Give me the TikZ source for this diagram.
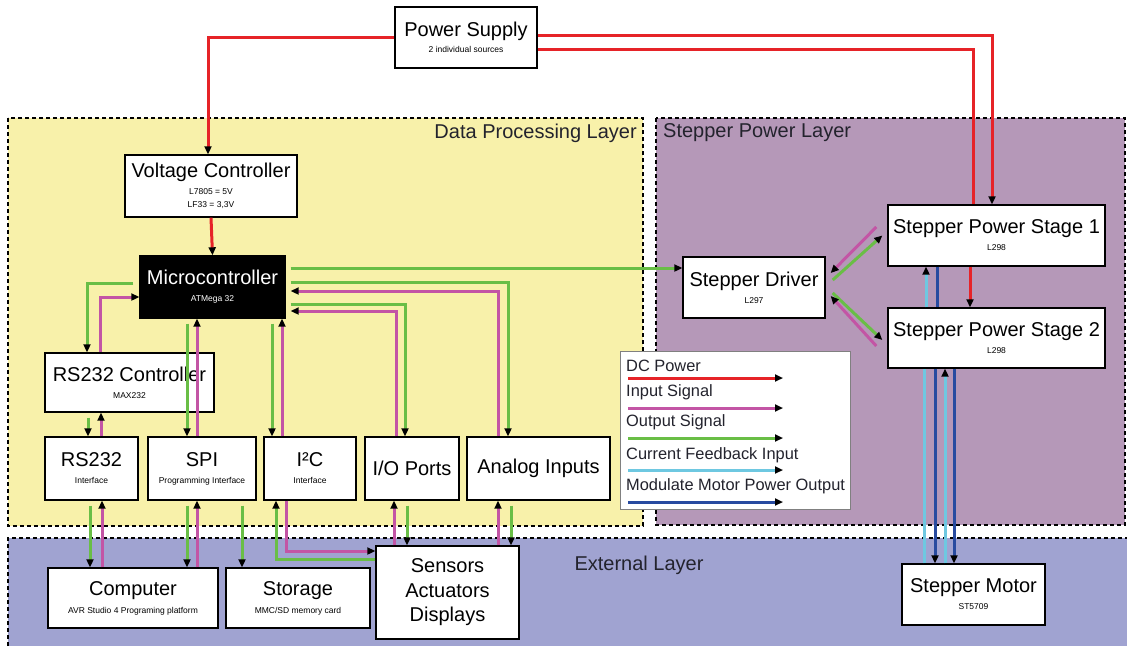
\documentclass[tikz,border=0pt]{standalone}
\usepackage{fontspec}
\setmainfont{Liberation Sans}
\usetikzlibrary{arrows.meta}
\definecolor{cred}{RGB}{230,35,40}
\definecolor{cmag}{RGB}{195,85,165}
\definecolor{cgrn}{RGB}{105,190,70}
\definecolor{ccyan}{RGB}{110,200,225}
\definecolor{cblue}{RGB}{40,75,160}
\definecolor{lyel}{RGB}{248,241,170}
\definecolor{lpur}{RGB}{181,152,184}
\definecolor{lblu}{RGB}{160,163,209}
\definecolor{ltxt}{RGB}{35,35,45}
\newcommand\mainf{\fontsize{20}{22}\selectfont}
\newcommand\subf{\fontsize{8.5}{11}\selectfont}
\begin{document}
\begin{tikzpicture}[x=1pt,y=-1pt,
  box/.style={draw=black, line width=1.4pt, fill=white, inner sep=0pt, align=center, text=black, font=\mainf},
  layer/.style={draw=black, line width=1.6pt, dash pattern=on 4pt off 3pt},
  lay/.style={text=ltxt, font=\fontsize{20}{22}\selectfont, inner sep=0pt},
  sig/.style={line width=3pt},
  tipa/.style={-{Triangle[length=8pt,width=7pt,black]}},
  pw/.style={sig, cred},
  pwa/.style={pw, tipa},
  ina/.style={sig, cmag, tipa},
  outa/.style={sig, cgrn, tipa},
  fb/.style={sig, ccyan},
  fba/.style={fb, tipa},
  md/.style={sig, cblue},
  mda/.style={md, tipa},
  legt/.style={anchor=west, inner sep=0pt, font=\fontsize{16.4}{18}\selectfont, text=ltxt}
]
\useasboundingbox (0,0) rectangle (1127,646);
\fill[white] (0,0) rectangle (1127,646);

% layers
\fill[lyel] (8,118) rectangle (643,526);
\draw[layer] (8,118) rectangle (643,526);
\fill[lpur] (656,118) rectangle (1125,525);
\draw[layer] (656,118) rectangle (1125,525);
\fill[lblu] (8,538) rectangle (1127,646);
\draw[layer] (8,646) -- (8,538) -- (1127,538);
\node[lay, anchor=east] (l1) at (637,133) {Data Processing Layer};
\node[lay, anchor=west] (l2) at (663,133) {Stepper Power Layer};
\node[lay] (l3) at (639,565) {External Layer};

% nodes
\node[box, minimum width=142pt, minimum height=61pt] (ps) at (466,37.5)
  {Power Supply\\[-6pt]\subf 2 individual sources};
\node[box, minimum width=172pt, minimum height=62pt] (vc) at (211,186)
  {Voltage Controller\\[-5pt]\subf L7805 = 5V\\[-9pt]\subf LF33 = 3,3V};
\node[box, fill=black, text=white, minimum width=145pt, minimum height=62pt] (mc) at (212.5,287)
  {Microcontroller\\[-5pt]\subf ATMega 32};
\node[box, minimum width=169pt, minimum height=59pt] (rsc) at (129.5,382.5)
  {RS232 Controller\\[-5pt]\subf MAX232};
\node[box, minimum width=93pt, minimum height=63pt] (rs) at (91.5,468.5)
  {RS232\\[-5pt]\subf Interface};
\node[box, minimum width=108pt, minimum height=63pt] (spi) at (202,468.5)
  {SPI\\[-5pt]\subf Programming Interface};
\node[box, minimum width=92pt, minimum height=63pt] (i2c) at (310,468.5)
  {I²C\\[-5pt]\subf Interface};
\node[box, minimum width=94pt, minimum height=63pt] (io) at (412,468.5)
  {I/O Ports};
\node[box, minimum width=143pt, minimum height=63pt] (an) at (538.5,468.5)
  {Analog Inputs};
\node[box, minimum width=142pt, minimum height=61pt] (sd) at (754,287.5)
  {Stepper Driver\\[-5pt]\subf L297};
\node[box, minimum width=217pt, minimum height=61pt] (sp1) at (996.5,235.5)
  {Stepper Power Stage 1\\[-5pt]\subf L298};
\node[box, minimum width=217pt, minimum height=60pt] (sp2) at (996.5,338)
  {Stepper Power Stage 2\\[-5pt]\subf L298};
\node[box, minimum width=143pt, minimum height=61pt] (sm) at (973.5,594.5)
  {Stepper Motor\\[-5pt]\subf ST5709};
\node[box, minimum width=170pt, minimum height=60pt] (comp) at (133,598)
  {Computer\\[-4pt]\subf AVR Studio 4 Programing platform};
\node[box, minimum width=144pt, minimum height=60pt] (stor) at (298,598)
  {Storage\\[-4pt]\subf MMC/SD memory card};
\node[box, font=\fontsize{20}{24.5}\selectfont, minimum width=143pt, minimum height=93pt] (sens) at (447.5,592.5)
  {Sensors\\Actuators\\Displays};

% legend
\node[draw=gray, line width=0.8pt, fill=white, minimum width=230pt, minimum height=158pt, inner sep=0pt] (leg) at (735,430) {};
\node[legt] (t1) at (626,366) {DC Power};
\node[legt] (t2) at (626,392) {Input Signal};
\node[legt] (t3) at (626,422) {Output Signal};
\node[legt] (t4) at (626,455) {Current Feedback Input};
\node[legt] (t5) at (626,486) {Modulate Motor Power Output};
\coordinate (a1) at (628,378); \coordinate (b1) at (783,378);
\coordinate (a2) at (628,408); \coordinate (b2) at (783,408);
\coordinate (a3) at (628,438); \coordinate (b3) at (783,438);
\coordinate (a4) at (628,470); \coordinate (b4) at (783,470);
\coordinate (a5) at (628,502); \coordinate (b5) at (783,502);
\draw[pwa] (a1) -- (b1);
\draw[ina] (a2) -- (b2);
\draw[outa] (a3) -- (b3);
\draw[fba] (a4) -- (b4);
\draw[mda] (a5) -- (b5);

% power
\draw[pwa] (ps.west) -| (208,0 |- vc.north);
\draw[pwa] (ps.east |- 0,35) -| (992,0 |- sp1.north);
\draw[pw] (ps.east |- 0,49) -| (973,0 |- sp1.north);
\draw[pwa] (970,0 |- sp1.south) -- (970,0 |- sp2.north);
\draw[pwa] (vc.south) -- (mc.north);

% microcontroller left
\draw[outa, shorten <=6pt] (mc.west |- 0,283) -| (87,0 |- rsc.north);
\draw[ina] (100,0 |- rsc.north) |- (mc.west |- 0,297);
% microcontroller bottom
\draw[outa, shorten <=5pt] (187,0 |- mc.south) -- (187,0 |- spi.north);
\draw[ina] (197,0 |- spi.north) -- (197,0 |- mc.south);
\draw[outa, shorten <=5pt] (272,0 |- mc.south) -- (272,0 |- i2c.north);
\draw[ina] (282,0 |- i2c.north) -- (282,0 |- mc.south);
% microcontroller right
\draw[outa, shorten <=5pt] (mc.east |- 0,268) -- (sd.west |- 0,268);
\draw[outa, shorten <=5pt] (mc.east |- 0,282) -| (508,0 |- an.north);
\draw[ina, shorten >=5pt] (498,0 |- an.north) |- (mc.east |- 0,291);
\draw[outa, shorten <=5pt] (mc.east |- 0,304) -| (405,0 |- io.north);
\draw[ina, shorten >=5pt] (396,0 |- io.north) |- (mc.east |- 0,311);

% RS232 controller to interface
\draw[outa, shorten <=5pt] (88,0 |- rsc.south) -- (88,0 |- rs.north);
\draw[ina] (101,0 |- rs.north) -- (101,0 |- rsc.south);
% interfaces to external
\draw[outa, shorten <=5pt] (90,0 |- rs.south) -- (90,0 |- comp.north);
\draw[ina] (102,0 |- comp.north) -- (102,0 |- rs.south);
\draw[outa, shorten <=5pt] (187,0 |- spi.south) -- (187,0 |- comp.north);
\draw[ina] (197,0 |- comp.north) -- (197,0 |- spi.south);
\draw[outa, shorten <=5pt] (242,0 |- spi.south) -- (242,0 |- stor.north);
\draw[ina] (286,0 |- i2c.south) |- (sens.west |- 0,551);
\draw[outa] (sens.west |- 0,559) -| (276,0 |- i2c.south);
\draw[ina] (394,0 |- sens.north) -- (394,0 |- io.south);
\draw[outa, shorten <=5pt] (407,0 |- io.south) -- (407,0 |- sens.north);
\draw[ina] (498,0 |- sens.north) -- (498,0 |- an.south);
\draw[outa, shorten <=5pt] (511,0 |- an.south) -- (511,0 |- sens.north);

% driver to power stages
\draw[ina] ([xshift=-11pt,yshift=8.5pt]sp1.west) -- ([xshift=5pt,yshift=14.5pt]sd.east);
\draw[outa] ([xshift=7pt,yshift=7.5pt]sd.east) -- ([xshift=-5pt]sp1.west);
\draw[outa] ([xshift=7pt,yshift=-5.5pt]sd.east) -- ([xshift=-5pt,yshift=-2pt]sp2.west);
\draw[ina] ([xshift=-11pt,yshift=-8pt]sp2.west) -- ([xshift=5pt,yshift=-8.5pt]sd.east);

% power stages feedback / modulation
\draw[fba] (926,0 |- sp2.north) -- (926,0 |- sp1.south);
\draw[md] (937,0 |- sp1.south) -- (937,0 |- sp2.north);
\draw[fb] (924,0 |- sm.north) -- (924,0 |- sp2.south);
\draw[mda] (935,0 |- sp2.south) -- (935,0 |- sm.north);
\draw[fba] (945,0 |- sm.north) -- (945,0 |- sp2.south);
\draw[mda] (954,0 |- sp2.south) -- (954,0 |- sm.north);
\end{tikzpicture}
\end{document}
